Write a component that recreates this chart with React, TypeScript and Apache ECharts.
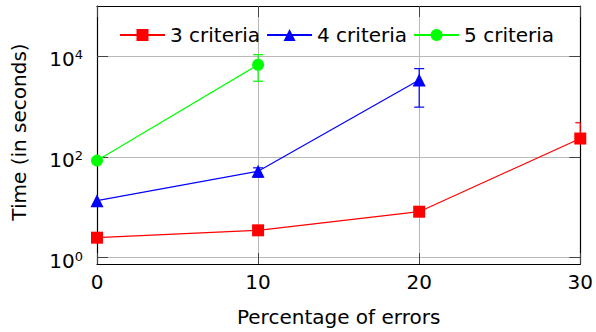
import React, { useEffect, useRef } from 'react';
import * as echarts from 'echarts';

const xCategories = [0, 10, 20, 30];
const seriesNames = ['3 criteria', '4 criteria', '5 criteria'];
const values3 = [2.5, 3.5, 8.2, 233];
const values4 = [13.6, 52, 3400];
const values5 = [85, 6800];
// error bars: [x, low, high]
const err3 = [[30, 190, 480]];
const err4 = [[10, 40, 61], [20, 980, 5700]];
const err5 = [[10, 3200, 10800]];
const yTickValues = [1, 100, 10000];
const xTickValues = [0, 10, 20, 30];

const COLORS = ['#ff0000', '#0000ff', '#00ff00'];
const SYMBOLS = ['rect', 'triangle', 'circle'];
const FONT = 'DejaVu Sans';

function pairs(vals: number[]) {
  return vals.map((v, i) => [xCategories[i], v]);
}

function errSeries(data: number[][], color: string) {
  return {
    type: 'custom',
    data,
    clip: true,
    z: 3,
    encode: { x: 0, y: [1, 2] },
    renderItem: (params: any, api: any) => {
      const x = api.value(0);
      const lo = api.value(1);
      const hi = api.value(2);
      const p1 = api.coord([x, lo]);
      const p2 = api.coord([x, hi]);
      const cs = params.coordSys;
      const xl = cs.x;
      const xr = cs.x + cs.width;
      const hw = 5;
      const a = Math.max(xl, p1[0] - hw);
      const b = Math.min(xr, p1[0] + hw);
      const style = { stroke: color, lineWidth: 1.2 };
      return {
        type: 'group',
        children: [
          { type: 'line', shape: { x1: p1[0], y1: p1[1], x2: p2[0], y2: p2[1] }, style },
          { type: 'line', shape: { x1: a, y1: p1[1], x2: b, y2: p1[1] }, style },
          { type: 'line', shape: { x1: a, y1: p2[1], x2: b, y2: p2[1] }, style },
        ],
      };
    },
  };
}

function yLabel(v: number) {
  const e = Math.round(Math.log10(v));
  return `{b|10}{s|${e}}`;
}

export default function App() {
  const ref = useRef<HTMLDivElement>(null);
  useEffect(() => {
    if (!ref.current) return;
    const chart = echarts.init(ref.current, null, { renderer: 'svg' });
    const gridLine = { show: true, lineStyle: { color: '#b8b8b8', width: 1 } };
    const tick = {
      show: true,
      inside: true,
      length: 11,
      lineStyle: { color: '#444', width: 1 },
    };
    const axisLine = { show: true, onZero: false, lineStyle: { color: '#000', width: 1.2 } };
    const yBase = {
      type: 'log',
      logBase: 10,
      min: 0.75,
      max: 100000,
      axisLine,
      axisTick: { ...tick, customValues: yTickValues },
      minorTick: { show: false },
    };
    const xBase = {
      type: 'value',
      min: 0,
      max: 30,
      interval: 10,
      axisLine,
      axisTick: tick,
    };
    chart.setOption({
      animation: false,
      backgroundColor: '#fff',
      textStyle: { fontFamily: FONT },
      grid: { left: 97, right: 14, top: 6, bottom: 67, containLabel: false },
      legend: {
        data: seriesNames,
        left: 114,
        top: 20,
        itemWidth: 45,
        itemHeight: 15,
        itemGap: 6,
        textStyle: { fontSize: 20, fontFamily: FONT, color: '#000' },
      },
      xAxis: [
        {
          ...xBase,
          position: 'bottom',
          splitLine: gridLine,
          name: 'Percentage of errors',
          nameLocation: 'middle',
          nameGap: 43,
          nameTextStyle: { fontSize: 20, fontFamily: FONT, color: '#000' },
          axisLabel: {
            margin: 8,
            fontSize: 20,
            fontFamily: FONT,
            color: '#000',
            customValues: xTickValues,
          },
        },
        {
          ...xBase,
          position: 'top',
          splitLine: { show: false },
          axisLabel: { show: false },
        },
      ],
      yAxis: [
        {
          ...yBase,
          position: 'left',
          splitLine: gridLine,
          name: 'Time (in seconds)',
          nameLocation: 'middle',
          nameGap: 68,
          nameTextStyle: { fontSize: 20, fontFamily: FONT, color: '#000', padding: [0, 0, 0, 6] },
          axisLabel: {
            margin: 14,
            padding: [6, 0, 0, 0],
            formatter: yLabel,
            customValues: yTickValues,
            rich: {
              b: { fontSize: 20, fontFamily: FONT, color: '#000', lineHeight: 22 },
              s: { fontSize: 13, fontFamily: FONT, color: '#000', verticalAlign: 'top' },
            },
          },
        },
        {
          ...yBase,
          position: 'right',
          splitLine: { show: false },
          axisLabel: { show: false },
        },
      ],
      series: [
        errSeries(err3, COLORS[0]),
        errSeries(err4, COLORS[1]),
        errSeries(err5, COLORS[2]),
        ...[values3, values4, values5].map((vals, i) => ({
          type: 'line',
          name: seriesNames[i],
          data: pairs(vals),
          symbol: SYMBOLS[i],
          symbolSize: i === 1 ? 13 : 12,
          color: COLORS[i],
          lineStyle: { color: COLORS[i], width: 1.2 },
          itemStyle: { color: COLORS[i] },
          clip: false,
          z: 4,
        })),
      ],
    });
    return () => chart.dispose();
  }, []);
  return (
    <div
      ref={ref}
      style={{ position: 'fixed', left: 0, top: 0, width: 596, height: 332 }}
    />
  );
}
